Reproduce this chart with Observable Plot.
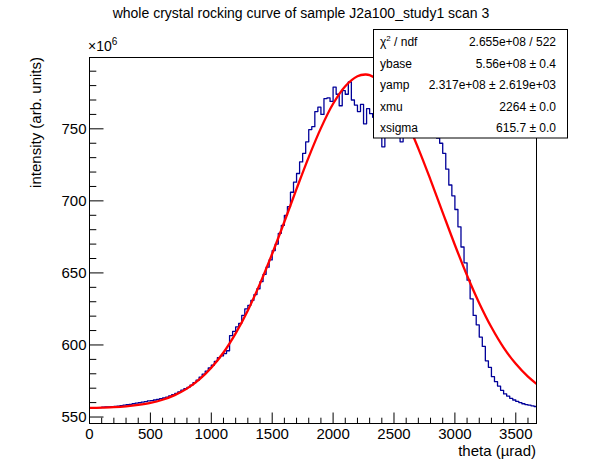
<!DOCTYPE html>
<html>
<head>
<meta charset="utf-8">
<script src="https://cdn.jsdelivr.net/npm/d3@7"></script>
<script src="https://cdn.jsdelivr.net/npm/@observablehq/plot@0.6"></script>
<style>
  body { margin: 0; background: #fff; }
  #wrap { width: 596px; height: 472px; }
</style>
</head>
<body>
<div id="wrap"></div>
<script>
// ---- histogram data (bin low edges, 25 µrad bins) ----
const binWidth = 25;
const binLow = d3.range(0, 3675, binWidth);
const intensity = [
  556.4, 556.4, 556.5, 556.5,
  556.8, 557.0, 557.1, 557.2,
  557.4, 557.6, 557.9, 558.2,
  558.6, 558.8, 559.2, 559.6,
  559.9, 560.4, 560.7, 561.2,
  561.4, 561.8, 562.3, 562.8,
  563.2, 563.8, 564.6, 565.6,
  566.4, 567.4, 568.6, 569.7,
  570.6, 572.2, 573.9, 575.6,
  577.6, 579.8, 581.8, 584.0,
  586.0, 588.6, 591.2, 592.4,
  594.0, 596.0, 606.5, 609.5,
  612.5, 615.0, 620.5, 625.0,
  627.5, 631.0, 635.0, 639.0,
  644.0, 649.0, 654.0, 659.0,
  665.5, 670.0, 677.5, 683.0,
  690.0, 696.0, 706.0, 713.0,
  719.0, 727.0, 733.0, 741.0,
  749.5, 751.5, 762.0, 765.0,
  760.0, 771.0, 771.5, 769.0,
  779.0, 774.0, 766.0, 776.5,
  774.0, 782.5, 770.0, 766.5,
  762.0, 767.0, 753.5, 764.0,
  760.5, 758.0, 756.0, 752.0,
  737.5, 754.0, 751.0, 749.0,
  752.0, 748.0, 741.0, 750.0,
  748.0, 751.0, 747.0, 749.0,
  746.0, 748.0, 745.0, 747.0,
  744.0, 745.0, 743.5, 740.0,
  733.0, 722.0, 711.0, 703.5,
  694.0, 682.0, 668.0, 657.0,
  645.0, 632.0, 620.5, 614.0,
  605.5, 599.0, 589.0, 584.5,
  578.0, 574.5, 571.5, 568.5,
  566.0, 564.5, 563.0, 561.8,
  560.8, 560.0, 559.2, 558.6,
  558.2, 557.8, 557.3
];

// ---- fitted curve ----
const fitTheta = [0,100,200,300,400,500,600,700,800,900,1000,1100,1200,1300,1400,1500,1600,1700,1800,1900,2000,2100,2200,2264,2300,2400,2500,2600,2700,2800,2900,3000,3100,3200,3300,3400,3500,3600,3670];
const fitIntensity = [556.3,556.5,556.8,557.4,558.4,559.8,562.0,565.2,569.7,575.9,584.2,594.8,608.1,624.0,642.6,663.3,685.5,708.3,730.4,750.5,767.4,779.6,786.5,787.7,787.3,782.1,771.3,755.7,736.3,714.6,691.9,669.4,648.2,629.0,612.3,598.2,586.9,578.0,573.1];

// ---- axes ----
const xMajor = [0, 500, 1000, 1500, 2000, 2500, 3000, 3500];
const xMinor = d3.range(0, 3670, 100).filter(v => v % 500 !== 0);
const yMajor = [550, 600, 650, 700, 750];
const yMinor = d3.range(550, 800, 10).filter(v => v % 50 !== 0);

// ---- stats box ----
const statNames = ["χ2 / ndf", "ybase", "yamp", "xmu", "xsigma"];
const statValues = ["2.655e+08 / 522", "5.56e+08 ± 0.4", "2.317e+08 ± 2.619e+03", "2264 ± 0.0", "615.7 ± 0.0"];

const hist = binLow.map((x, i) => ({x, y: intensity[i]}));
hist.push({x: binLow[binLow.length - 1] + binWidth, y: intensity[intensity.length - 1]});
const fit = fitTheta.map((x, i) => ({x, y: fitIntensity[i]}));

const W = 596, H = 472, mL = 89, mR = 60, mT = 57, mB = 49;
const plotW = W - mL - mR, plotH = H - mT - mB;
const font = '"Liberation Sans", Arial, Helvetica, sans-serif';

const svg = Plot.plot({
  width: W, height: H,
  marginLeft: mL, marginRight: mR, marginTop: mT, marginBottom: mB,
  style: {fontFamily: font, background: "#fff", color: "#000"},
  x: {domain: [0, 3670], axis: null},
  y: {domain: [545.5, 799.5], axis: null},
  marks: [
    Plot.line(hist, {x: "x", y: "y", curve: "step-after", stroke: "#000099", strokeWidth: 1.3, clip: true}),
    Plot.line(fit, {x: "x", y: "y", curve: "catmull-rom", stroke: "#ff0000", strokeWidth: 2.3, clip: true}),
    Plot.frame({stroke: "#000", strokeWidth: 1}),
    Plot.tickY(yMajor, {y: d => d, insetRight: plotW - 14.5, stroke: "#000", strokeWidth: 1}),
    Plot.tickY(yMinor, {y: d => d, insetRight: plotW - 7.3, stroke: "#000", strokeWidth: 1}),
    Plot.tickX(xMajor, {x: d => d, insetTop: plotH - 10.5, stroke: "#000", strokeWidth: 1}),
    Plot.tickX(xMinor, {x: d => d, insetTop: plotH - 5.3, stroke: "#000", strokeWidth: 1}),
    Plot.text(yMajor, {y: d => d, text: d => String(d), frameAnchor: "left", dx: -3, textAnchor: "end", lineAnchor: "middle", fontSize: 15, fill: "#000"}),
    Plot.text(xMajor, {x: d => d, text: d => String(d), frameAnchor: "bottom", dy: 5, textAnchor: "middle", lineAnchor: "top", fontSize: 15, fill: "#000"})
  ]
});

const s = d3.select(svg);
// title
s.append("text").attr("x", 301).attr("y", 18).attr("text-anchor", "middle")
  .attr("font-size", 14).attr("font-family", font).attr("fill", "#000")
  .text("whole crystal rocking curve of sample J2a100_study1 scan 3");
// axis titles
s.append("text").attr("transform", "translate(41,57) rotate(-90)").attr("text-anchor", "end")
  .attr("font-size", 15).attr("font-family", font).attr("fill", "#000")
  .text("intensity (arb. units)");
s.append("text").attr("x", 536).attr("y", 456).attr("text-anchor", "end")
  .attr("font-size", 15).attr("font-family", font).attr("fill", "#000")
  .text("theta (µrad)");
// exponent
const ex = s.append("text").attr("x", 88).attr("y", 51).attr("text-anchor", "start")
  .attr("font-size", 14).attr("font-family", font).attr("fill", "#000");
ex.append("tspan").text("×10");
ex.append("tspan").attr("dy", -6).attr("font-size", 10).text("6");
// stats box
const g = s.append("g");
g.append("rect").attr("x", 373.5).attr("y", 29.5).attr("width", 194).attr("height", 108.5)
  .attr("fill", "#fff").attr("stroke", "#000").attr("stroke-width", 1);
const baselines = [46, 67.5, 89, 110.5, 132];
statNames.forEach((name, i) => {
  const t = g.append("text").attr("x", 380).attr("y", baselines[i]).attr("text-anchor", "start")
    .attr("font-size", 12).attr("font-family", font).attr("fill", "#000");
  if (i === 0) {
    t.append("tspan").text("χ");
    t.append("tspan").attr("dy", -5).attr("font-size", 8).text("2");
    t.append("tspan").attr("dy", 5).text(" / ndf");
  } else {
    t.text(name);
  }
  g.append("text").attr("x", 556).attr("y", baselines[i]).attr("text-anchor", "end")
    .attr("font-size", 12).attr("font-family", font).attr("fill", "#000")
    .text(statValues[i]);
});

document.getElementById("wrap").appendChild(svg);
</script>
</body>
</html>
